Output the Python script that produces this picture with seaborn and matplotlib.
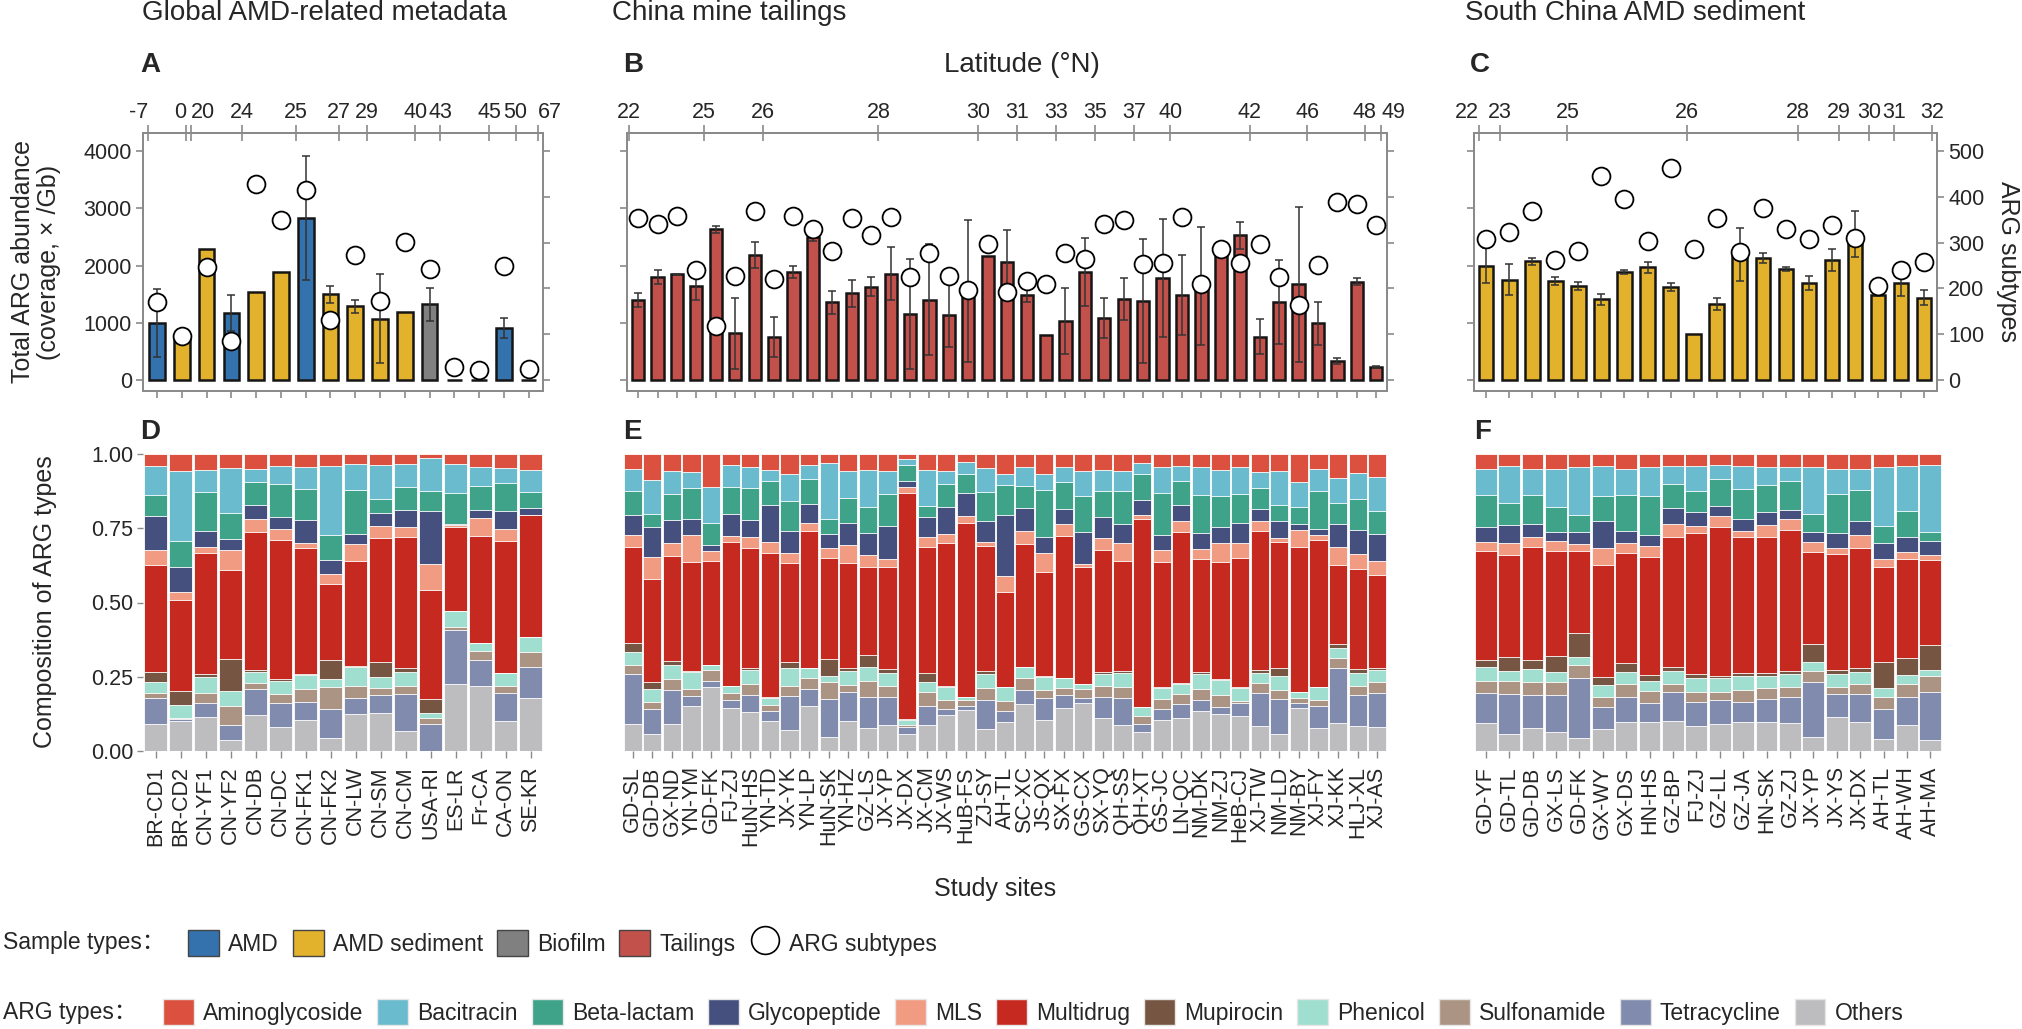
import numpy as np
import seaborn as sns
import matplotlib.pyplot as plt
from matplotlib.patches import Patch
from matplotlib.lines import Line2D

sns.set_theme(style="ticks")
plt.rcParams['font.family'] = ['Liberation Sans', 'Noto Sans CJK SC', 'DejaVu Sans']

W, H = 2022, 1029
GRAY = "#8a8a8a"

# ---------------- panel A : global AMD-related metadata ----------------
sites_A = ["BR-CD1", "BR-CD2", "CN-YF1", "CN-YF2", "CN-DB", "CN-DC", "CN-FK1", "CN-FK2",
           "CN-LW", "CN-SM", "CN-CM", "USA-RI", "ES-LR", "Fr-CA", "CA-ON", "SE-KR"]
type_A = ["AMD", "AMD sediment", "AMD sediment", "AMD", "AMD sediment", "AMD sediment", "AMD",
          "AMD sediment", "AMD sediment", "AMD sediment", "AMD sediment", "Biofilm",
          "AMD", "AMD", "AMD", "AMD"]
abund_A = [990, 710, 2280, 1175, 1535, 1890, 2830, 1495, 1290, 1070, 1190, 1325, 0, 0, 910, 0]
err_A = [595, 0, 0, 315, 0, 0, 1080, 150, 115, 780, 0, 290, 0, 0, 180, 0]
subtypes_A = [171, 96, 246, 85, 429, 349, 414, 130, 274, 172, 301, 243, 28, 21, 249, 25]
lat_A = ["-7", "0", "20", "24", "25", "27", "29", "40", "43", "45", "50", "67"]
lat_A_pos = [-0.37, 1.16, 1.36, 3.43, 5.61, 7.33, 8.47, 10.43, 11.44, 13.41, 14.47, 15.36]

# ---------------- panel B : China mine tailings ----------------
sites_B = ["GD-SL", "GD-DB", "GX-ND", "YN-YM", "GD-FK", "FJ-ZJ", "HuN-HS", "YN-TD", "JX-YK",
           "YN-LP", "HuN-SK", "YN-HZ", "GZ-LS", "JX-YP", "JX-DX", "JX-CM", "JX-WS", "HuB-FS",
           "ZJ-SY", "AH-TL", "SC-XC", "JS-QX", "SX-FX", "GS-CX", "SX-YQ", "QH-SS", "QH-XT",
           "GS-JC", "LN-QC", "NM-DK", "NM-ZJ", "HeB-CJ", "XJ-TW", "NM-LD", "NM-BY", "XJ-FY",
           "XJ-KK", "HLJ-XL", "XJ-AS"]
type_B = ["Tailings"] * len(sites_B)
abund_B = [1397, 1805, 1845, 1644, 2632, 816, 2184, 753, 1885, 2506,
           1356, 1517, 1632, 1856, 1155, 1402, 1138, 1550, 2172, 2055,
           1487, 794, 1029, 1886, 1086, 1411, 1383, 1783, 1486, 1650,
           2170, 2526, 754, 1366, 1669, 994, 337, 1714, 229]
err_B = [125, 120, 15, 250, 60, 620, 235, 350, 100, 85,
         195, 235, 165, 465, 960, 970, 570, 1240, 0, 560,
         130, 0, 580, 590, 355, 370, 1080, 1025, 695, 1030,
         0, 240, 305, 730, 1360, 375, 50, 60, 20]
subtypes_B = [354, 340, 358, 241, 117, 228, 369, 221, 358, 329,
              282, 353, 316, 355, 226, 277, 228, 196, 298, 193,
              217, 209, 278, 265, 340, 349, 253, 256, 356, 209,
              286, 255, 298, 224, 164, 251, 389, 384, 338]
lat_B = ["22", "25", "26", "28", "30", "31", "33", "35", "37", "40", "42", "46", "48", "49"]
lat_B_pos = [-0.48, 3.38, 6.42, 12.37, 17.51, 19.5, 21.5, 23.51, 25.52, 27.4, 31.49, 34.44, 37.4, 38.26]

# ---------------- panel C : South China AMD sediment ----------------
sites_C = ["GD-YF", "GD-TL", "GD-DB", "GX-LS", "GD-FK", "GX-WY", "GX-DS", "HN-HS", "GZ-BP",
           "FJ-ZJ", "GZ-LL", "GZ-JA", "HN-SK", "GZ-ZJ", "JX-YP", "JX-YS", "JX-DX", "AH-TL",
           "AH-WH", "AH-MA"]
type_C = ["AMD sediment"] * len(sites_C)
abund_C = [2000, 1754, 2074, 1737, 1640, 1411, 1886, 1971, 1617, 811,
           1326, 2188, 2126, 1931, 1690, 2097, 2550, 1486, 1695, 1440]
err_C = [300, 275, 60, 70, 70, 95, 40, 95, 70, 0,
         110, 460, 90, 35, 125, 185, 400, 20, 225, 130]
subtypes_C = [309, 324, 368, 261, 282, 446, 396, 304, 464, 287,
              354, 279, 375, 330, 307, 338, 311, 206, 241, 257]
lat_C = ["22", "23", "25", "26", "28", "29", "30", "31", "32"]
lat_C_pos = [-0.32, 0.6, 3.52, 8.71, 13.52, 15.32, 16.61, 17.69, 19.35]

# ---------------- composition (D, E, F) ----------------
# cumulative share at the top of each ARG type, bottom -> top
# (Others, Tetracycline, Sulfonamide, Phenicol, Mupirocin, Multidrug, MLS,
#  Glycopeptide, Beta-lactam, Bacitracin); Aminoglycoside closes each bar at 1
arg_types = ["Others", "Tetracycline", "Sulfonamide", "Phenicol", "Mupirocin", "Multidrug",
             "MLS", "Glycopeptide", "Beta-lactam", "Bacitracin", "Aminoglycoside"]
cum_D = [
    [0.090, 0.178, 0.196, 0.233, 0.267, 0.627, 0.677, 0.790, 0.861, 0.958],
    [0.100, 0.108, 0.110, 0.156, 0.201, 0.508, 0.537, 0.621, 0.708, 0.944],
    [0.115, 0.162, 0.196, 0.250, 0.258, 0.668, 0.688, 0.741, 0.872, 0.945],
    [0.036, 0.088, 0.151, 0.202, 0.309, 0.610, 0.677, 0.714, 0.800, 0.953],
    [0.120, 0.208, 0.229, 0.267, 0.272, 0.739, 0.782, 0.828, 0.906, 0.951],
    [0.080, 0.162, 0.192, 0.236, 0.243, 0.711, 0.749, 0.787, 0.900, 0.961],
    [0.104, 0.165, 0.210, 0.256, 0.259, 0.685, 0.702, 0.777, 0.881, 0.955],
    [0.043, 0.142, 0.215, 0.244, 0.305, 0.562, 0.596, 0.643, 0.728, 0.961],
    [0.124, 0.177, 0.218, 0.283, 0.285, 0.640, 0.696, 0.732, 0.880, 0.967],
    [0.127, 0.187, 0.213, 0.250, 0.301, 0.717, 0.758, 0.802, 0.849, 0.964],
    [0.069, 0.192, 0.219, 0.265, 0.279, 0.719, 0.754, 0.812, 0.890, 0.967],
    [0.000, 0.092, 0.111, 0.129, 0.175, 0.542, 0.631, 0.809, 0.876, 0.988],
    [0.225, 0.409, 0.418, 0.471, 0.472, 0.753, 0.762, 0.763, 0.870, 0.966],
    [0.218, 0.306, 0.337, 0.362, 0.363, 0.724, 0.786, 0.812, 0.892, 0.955],
    [0.101, 0.195, 0.219, 0.261, 0.263, 0.708, 0.749, 0.807, 0.903, 0.953],
    [0.179, 0.282, 0.334, 0.384, 0.385, 0.794, 0.795, 0.819, 0.871, 0.947],
]
cum_E = [
    [0.090, 0.259, 0.288, 0.334, 0.362, 0.688, 0.728, 0.794, 0.875, 0.951],
    [0.058, 0.142, 0.164, 0.208, 0.231, 0.580, 0.654, 0.753, 0.798, 0.913],
    [0.092, 0.207, 0.241, 0.288, 0.304, 0.657, 0.700, 0.778, 0.867, 0.942],
    [0.152, 0.186, 0.209, 0.267, 0.268, 0.638, 0.726, 0.780, 0.885, 0.938],
    [0.216, 0.236, 0.274, 0.288, 0.289, 0.640, 0.674, 0.695, 0.767, 0.889],
    [0.146, 0.171, 0.196, 0.219, 0.220, 0.705, 0.724, 0.797, 0.888, 0.962],
    [0.130, 0.189, 0.227, 0.273, 0.281, 0.685, 0.720, 0.777, 0.884, 0.955],
    [0.101, 0.136, 0.154, 0.180, 0.181, 0.668, 0.705, 0.828, 0.908, 0.946],
    [0.070, 0.186, 0.220, 0.279, 0.298, 0.632, 0.665, 0.742, 0.843, 0.933],
    [0.152, 0.209, 0.245, 0.280, 0.281, 0.741, 0.767, 0.831, 0.915, 0.962],
    [0.048, 0.174, 0.231, 0.252, 0.309, 0.649, 0.683, 0.730, 0.781, 0.969],
    [0.102, 0.197, 0.223, 0.268, 0.281, 0.634, 0.694, 0.769, 0.853, 0.944],
    [0.076, 0.183, 0.236, 0.282, 0.323, 0.618, 0.659, 0.733, 0.820, 0.947],
    [0.088, 0.182, 0.218, 0.264, 0.276, 0.620, 0.646, 0.758, 0.867, 0.944],
    [0.057, 0.080, 0.088, 0.106, 0.107, 0.868, 0.888, 0.908, 0.964, 0.983],
    [0.088, 0.153, 0.199, 0.232, 0.262, 0.686, 0.722, 0.787, 0.826, 0.947],
    [0.120, 0.142, 0.171, 0.216, 0.218, 0.702, 0.732, 0.822, 0.900, 0.944],
    [0.137, 0.153, 0.173, 0.182, 0.183, 0.769, 0.790, 0.868, 0.933, 0.973],
    [0.073, 0.171, 0.213, 0.258, 0.269, 0.691, 0.705, 0.776, 0.871, 0.952],
    [0.098, 0.134, 0.168, 0.215, 0.217, 0.535, 0.589, 0.795, 0.895, 0.933],
    [0.157, 0.205, 0.247, 0.282, 0.283, 0.696, 0.742, 0.818, 0.893, 0.957],
    [0.103, 0.179, 0.205, 0.250, 0.253, 0.602, 0.668, 0.721, 0.880, 0.933],
    [0.146, 0.187, 0.213, 0.246, 0.247, 0.724, 0.763, 0.814, 0.907, 0.955],
    [0.163, 0.179, 0.208, 0.225, 0.226, 0.618, 0.630, 0.739, 0.859, 0.944],
    [0.111, 0.181, 0.220, 0.260, 0.267, 0.677, 0.718, 0.789, 0.876, 0.947],
    [0.088, 0.179, 0.216, 0.262, 0.271, 0.640, 0.702, 0.765, 0.874, 0.944],
    [0.064, 0.092, 0.118, 0.147, 0.148, 0.780, 0.793, 0.846, 0.931, 0.970],
    [0.105, 0.143, 0.174, 0.213, 0.214, 0.638, 0.677, 0.727, 0.870, 0.955],
    [0.111, 0.157, 0.191, 0.227, 0.228, 0.736, 0.776, 0.829, 0.910, 0.958],
    [0.134, 0.171, 0.210, 0.258, 0.267, 0.647, 0.679, 0.733, 0.862, 0.955],
    [0.123, 0.148, 0.187, 0.240, 0.241, 0.638, 0.699, 0.754, 0.859, 0.945],
    [0.118, 0.160, 0.168, 0.213, 0.214, 0.651, 0.699, 0.768, 0.864, 0.956],
    [0.084, 0.195, 0.228, 0.262, 0.272, 0.740, 0.774, 0.816, 0.886, 0.939],
    [0.056, 0.174, 0.207, 0.252, 0.280, 0.705, 0.717, 0.776, 0.829, 0.942],
    [0.146, 0.160, 0.179, 0.198, 0.199, 0.687, 0.745, 0.764, 0.822, 0.906],
    [0.076, 0.150, 0.171, 0.215, 0.216, 0.709, 0.728, 0.748, 0.876, 0.949],
    [0.094, 0.281, 0.312, 0.348, 0.360, 0.625, 0.686, 0.763, 0.835, 0.920],
    [0.083, 0.190, 0.220, 0.262, 0.276, 0.612, 0.664, 0.745, 0.849, 0.936],
    [0.082, 0.195, 0.232, 0.272, 0.278, 0.594, 0.640, 0.732, 0.807, 0.924],
]
cum_F = [
    [0.094, 0.194, 0.236, 0.283, 0.308, 0.675, 0.704, 0.754, 0.862, 0.948],
    [0.058, 0.193, 0.236, 0.271, 0.315, 0.660, 0.699, 0.761, 0.834, 0.960],
    [0.076, 0.190, 0.234, 0.276, 0.308, 0.688, 0.722, 0.763, 0.862, 0.951],
    [0.065, 0.188, 0.234, 0.267, 0.320, 0.672, 0.708, 0.737, 0.820, 0.949],
    [0.044, 0.245, 0.290, 0.315, 0.396, 0.672, 0.696, 0.739, 0.794, 0.956],
    [0.073, 0.149, 0.183, 0.222, 0.249, 0.627, 0.685, 0.773, 0.858, 0.958],
    [0.099, 0.181, 0.224, 0.267, 0.296, 0.665, 0.699, 0.740, 0.861, 0.948],
    [0.099, 0.160, 0.202, 0.236, 0.255, 0.652, 0.689, 0.727, 0.857, 0.955],
    [0.102, 0.198, 0.226, 0.270, 0.282, 0.722, 0.763, 0.818, 0.899, 0.960],
    [0.083, 0.164, 0.200, 0.245, 0.258, 0.734, 0.758, 0.804, 0.874, 0.960],
    [0.091, 0.173, 0.200, 0.245, 0.254, 0.755, 0.790, 0.824, 0.917, 0.963],
    [0.099, 0.165, 0.207, 0.253, 0.261, 0.722, 0.740, 0.781, 0.882, 0.960],
    [0.096, 0.175, 0.211, 0.253, 0.264, 0.719, 0.760, 0.806, 0.897, 0.955],
    [0.093, 0.183, 0.215, 0.258, 0.269, 0.744, 0.780, 0.813, 0.910, 0.956],
    [0.046, 0.234, 0.271, 0.301, 0.360, 0.670, 0.703, 0.739, 0.798, 0.956],
    [0.116, 0.191, 0.216, 0.258, 0.272, 0.663, 0.684, 0.734, 0.867, 0.951],
    [0.096, 0.191, 0.226, 0.267, 0.281, 0.684, 0.726, 0.776, 0.880, 0.948],
    [0.040, 0.140, 0.183, 0.211, 0.301, 0.618, 0.646, 0.702, 0.758, 0.955],
    [0.088, 0.182, 0.225, 0.255, 0.312, 0.647, 0.670, 0.721, 0.807, 0.958],
    [0.037, 0.200, 0.254, 0.272, 0.356, 0.643, 0.661, 0.708, 0.739, 0.963],
]

sample_colors = {"AMD": "#3472ae", "AMD sediment": "#e2b22d", "Biofilm": "#808080", "Tailings": "#c2514c"}
arg_colors = ["#bdbdbf", "#808bad", "#ab9483", "#a0dfcf", "#765643", "#c6291f",
              "#f29b83", "#45507e", "#3ea388", "#69bbcd", "#dc503f"]

fig = plt.figure(figsize=(W / 100, H / 100), dpi=100)


def add_box(left, right, top, bottom):
    # pixel box -> figure fraction
    return fig.add_axes([left / W, 1 - bottom / H, (right - left) / W, (bottom - top) / H])


def top_panel(ax, sites, types, abund, err, subtypes, lat_lab, lat_pos, xlim,
              left_labels=False, right_labels=False, lat_align=None):
    sns.barplot(x=sites, y=abund, hue=types, palette=sample_colors, dodge=False, order=sites,
                width=0.63, saturation=1, edgecolor="#151515", linewidth=1.8, legend=False, ax=ax)
    abund = np.array(abund)
    err = np.array(err)
    idx = np.flatnonzero(err > 0)
    ax.errorbar(idx, abund[idx], yerr=err[idx], fmt="none", ecolor="#333333",
                elinewidth=1.1, capsize=3, capthick=1.1, zorder=4)
    ax.set_ylim(-192, 4315)
    ax.set_yticks([0, 1000, 2000, 3000, 4000])
    ax.set_xlabel("")
    ax.set_ylabel("")
    ax.tick_params(axis="x", length=5, width=1.2, color=GRAY, labelbottom=False)
    ax.tick_params(axis="y", length=5, width=1.2, color=GRAY, labelsize=15.5,
                   labelleft=left_labels, pad=3)

    ax2 = ax.twinx()
    sns.scatterplot(x=np.arange(len(sites)), y=subtypes, s=165, color="white",
                    edgecolor="black", linewidth=1.3, zorder=5, legend=False, ax=ax2)
    ax2.set_ylim(-24, 539.4)
    ax2.set_yticks([0, 100, 200, 300, 400, 500])
    ax2.set_ylabel("")
    ax2.tick_params(axis="y", length=5, width=1.2, color=GRAY, labelsize=15.5,
                    labelright=right_labels, pad=3)

    sec = ax.secondary_xaxis("top")
    sec.set_xticks(lat_pos, labels=lat_lab)
    sec.tick_params(direction="inout", length=12, width=1.2, color=GRAY, labelsize=15.5, pad=1)
    # crowded latitude labels are pushed to one side of their tick
    for lab in sec.get_xticklabels():
        if lat_align and lab.get_text() in lat_align:
            lab.set_ha(lat_align[lab.get_text()])
    for a in (ax, ax2, sec):
        for sp in a.spines.values():
            sp.set_color(GRAY)
            sp.set_linewidth(1.3)
    ax.set_xlim(xlim)


def comp_panel(ax, sites, cum, xlim, left_labels=False):
    tops = np.column_stack([np.array(cum), np.ones(len(sites))])
    # overlapping cumulative bars, top category first
    for k in range(len(arg_types) - 1, -1, -1):
        sns.barplot(x=sites, y=tops[:, k], order=sites, color=arg_colors[k], width=0.93,
                    saturation=1, edgecolor="white", linewidth=0.6, ax=ax)
    ax.set_ylim(0, 1)
    ax.set_xlim(xlim)
    ax.set_xlabel("")
    ax.set_ylabel("")
    sns.despine(ax=ax, left=True, bottom=True)
    ax.tick_params(axis="x", length=5, width=1, color=GRAY, labelsize=15.5,
                   labelrotation=90, pad=6)
    if left_labels:
        ax.set_yticks([0, 0.25, 0.5, 0.75, 1.0])
        ax.set_yticklabels(["0.00", "0.25", "0.50", "0.75", "1.00"])
        ax.tick_params(axis="y", length=4, width=1, color=GRAY, labelsize=15.5, pad=3)
    else:
        ax.set_yticks([])


axA = add_box(143, 543, 133, 391)
axB = add_box(627, 1387, 133, 391)
axC = add_box(1474, 1937, 133, 391)
top_panel(axA, sites_A, type_A, abund_A, err_A, subtypes_A, lat_A, lat_A_pos, (-0.57, 15.58),
          left_labels=True, lat_align={"-7": "right", "0": "right", "20": "left", "67": "left"})
top_panel(axB, sites_B, type_B, abund_B, err_B, subtypes_B, lat_B, lat_B_pos, (-0.57, 38.55),
          lat_align={"49": "left"})
top_panel(axC, sites_C, type_C, abund_C, err_C, subtypes_C, lat_C, lat_C_pos, (-0.53, 19.56),
          right_labels=True, lat_align={"22": "right"})

axD = add_box(143, 543, 454, 751)
axE = add_box(623, 1387, 454, 751)
axF = add_box(1474, 1942, 454, 751)
comp_panel(axD, sites_A, cum_D, (-0.5, 15.5), left_labels=True)
comp_panel(axE, sites_B, cum_E, (-0.5, 38.5))
comp_panel(axF, sites_C, cum_F, (-0.5, 19.5))

# titles, panel letters, axis titles
def px_text(x, y, s, **kw):
    fig.text(x / W, 1 - y / H, s, **kw)


px_text(142, 13, "Global AMD-related metadata", fontsize=20, va="center")
px_text(612, 13, "China mine tailings", fontsize=20, va="center")
px_text(1465, 13, "South China AMD sediment", fontsize=20, va="center")
for x, y, s in [(140, 65, "A"), (623, 65, "B"), (1470, 65, "C"),
                (140, 432, "D"), (623, 432, "E"), (1474, 432, "F")]:
    px_text(x, y, s, fontsize=20, fontweight="bold", va="center")
px_text(1022, 65, "Latitude (°N)", fontsize=20, ha="center", va="center")
px_text(36, 262, "Total ARG abundance\n(coverage, × /Gb)", fontsize=18, rotation=90,
        ha="center", va="center", linespacing=1.1)
px_text(2008, 262, "ARG subtypes", fontsize=18, rotation=270, ha="center", va="center")
px_text(45, 602, "Composition of ARG types", fontsize=18, rotation=90, ha="center", va="center")
px_text(995, 889, "Study sites", fontsize=18, ha="center", va="center")

# legends
px_text(3, 943, "Sample types：", fontsize=16.5, va="center")
h1 = [Patch(facecolor=c, edgecolor="#444444", linewidth=1) for c in sample_colors.values()]
h1.append(Line2D([], [], marker="o", ls="none", markersize=20, markerfacecolor="white",
                 markeredgecolor="black", markeredgewidth=1.2))
fig.legend(h1, list(sample_colors.keys()) + ["ARG subtypes"], loc="center left",
           bbox_to_anchor=(188 / W, 1 - 943 / H), ncol=5, frameon=False, fontsize=16.5,
           handlelength=1.35, handleheight=1.35, handletextpad=0.4, columnspacing=0.6,
           borderpad=0, borderaxespad=0)

px_text(3, 1012, "ARG types：", fontsize=16.5, va="center")
legend_order = ["Aminoglycoside", "Bacitracin", "Beta-lactam", "Glycopeptide", "MLS",
                "Multidrug", "Mupirocin", "Phenicol", "Sulfonamide", "Tetracycline", "Others"]
h2 = [Patch(facecolor=arg_colors[arg_types.index(t)], edgecolor="#e6e6e6", linewidth=1)
      for t in legend_order]
fig.legend(h2, legend_order, loc="center left", bbox_to_anchor=(163 / W, 1 - 1012 / H),
           ncol=11, frameon=False, fontsize=16.5, handlelength=1.35, handleheight=1.35,
           handletextpad=0.4, columnspacing=0.6, borderpad=0, borderaxespad=0)

fig.savefig("out.png", dpi=100)
